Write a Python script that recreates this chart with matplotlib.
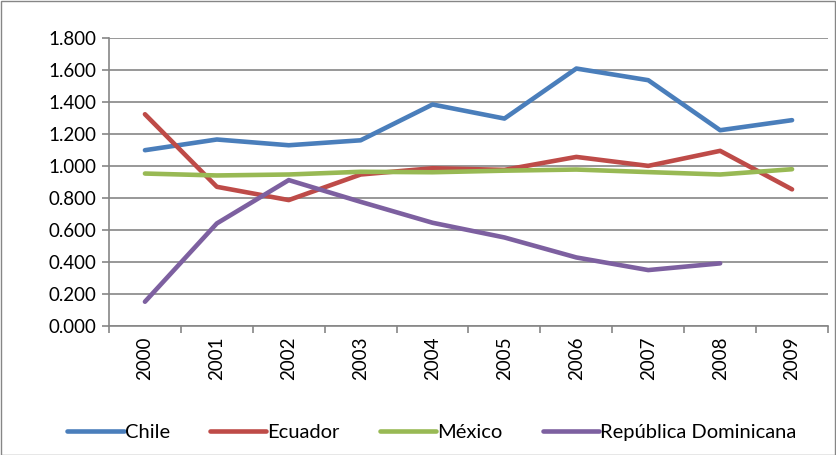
import matplotlib
matplotlib.use("Agg")
from matplotlib import pyplot as plt
import numpy as np

plt.rcParams['font.family'] = ['Lato', 'DejaVu Sans']

years = ['2000', '2001', '2002', '2003', '2004', '2005', '2006', '2007', '2008', '2009']
chile = [1.098, 1.165, 1.129, 1.160, 1.384, 1.296, 1.609, 1.536, 1.223, 1.286]
ecuador = [1.323, 0.869, 0.786, 0.946, 0.985, 0.975, 1.056, 1.000, 1.094, 0.853]
mexico = [0.952, 0.940, 0.946, 0.963, 0.960, 0.970, 0.977, 0.961, 0.946, 0.979]
rep_dom = [0.150, 0.640, 0.911, 0.775, 0.644, 0.552, 0.427, 0.348, 0.390, np.nan]

series = [("Chile", chile, "#4A7EBB"),
          ("Ecuador", ecuador, "#BE4B48"),
          ("México", mexico, "#98B954"),
          ("República Dominicana", rep_dom, "#7D60A0")]

fig = plt.figure(figsize=(8.37, 4.55), dpi=100)
ax = fig.add_axes([109 / 837, 1 - 325.7 / 455, (828 - 109) / 837, (325.7 - 38) / 455])

x = np.arange(len(years)) + 0.5
for name, vals, col in series:
    ax.plot(x, vals, color=col, lw=3.3, label=name, solid_capstyle='round',
            solid_joinstyle='round')

ax.set_xlim(0, len(years))
ax.set_ylim(0, 1.8)
ax.set_yticks(np.arange(0, 1.81, 0.2))
ax.set_yticklabels(['%.3f' % v for v in np.arange(0, 1.81, 0.2)], fontsize=13.5)
ax.set_xticks(x)
ax.set_xticklabels(years, rotation=90, fontsize=13.5)
ax.set_xticks(np.arange(0, len(years) + 1), minor=True)
ax.tick_params(axis='x', which='major', length=0, pad=8)
ax.tick_params(axis='x', which='minor', length=5, color='#868686', width=1.2)
ax.tick_params(axis='y', length=5, color='#868686', width=1.2, pad=4)
ax.grid(axis='y', color='#868686', lw=1.2)
ax.set_axisbelow(True)
for s in ['top', 'right']:
    ax.spines[s].set_visible(False)
for s in ['left', 'bottom']:
    ax.spines[s].set_color('#868686')
    ax.spines[s].set_linewidth(1.2)

fig.legend(loc='center', bbox_to_anchor=(0.516, 1 - 432 / 455), ncol=4, frameon=False,
           fontsize=14.5, handlelength=2.8, columnspacing=2.0, handletextpad=0.05)

border = plt.Rectangle((0.001, 0.001), 0.997, 0.997, transform=fig.transFigure,
                       fill=False, ec='#868686', lw=1)
fig.patches.append(border)

fig.savefig("out.png", dpi=100)
